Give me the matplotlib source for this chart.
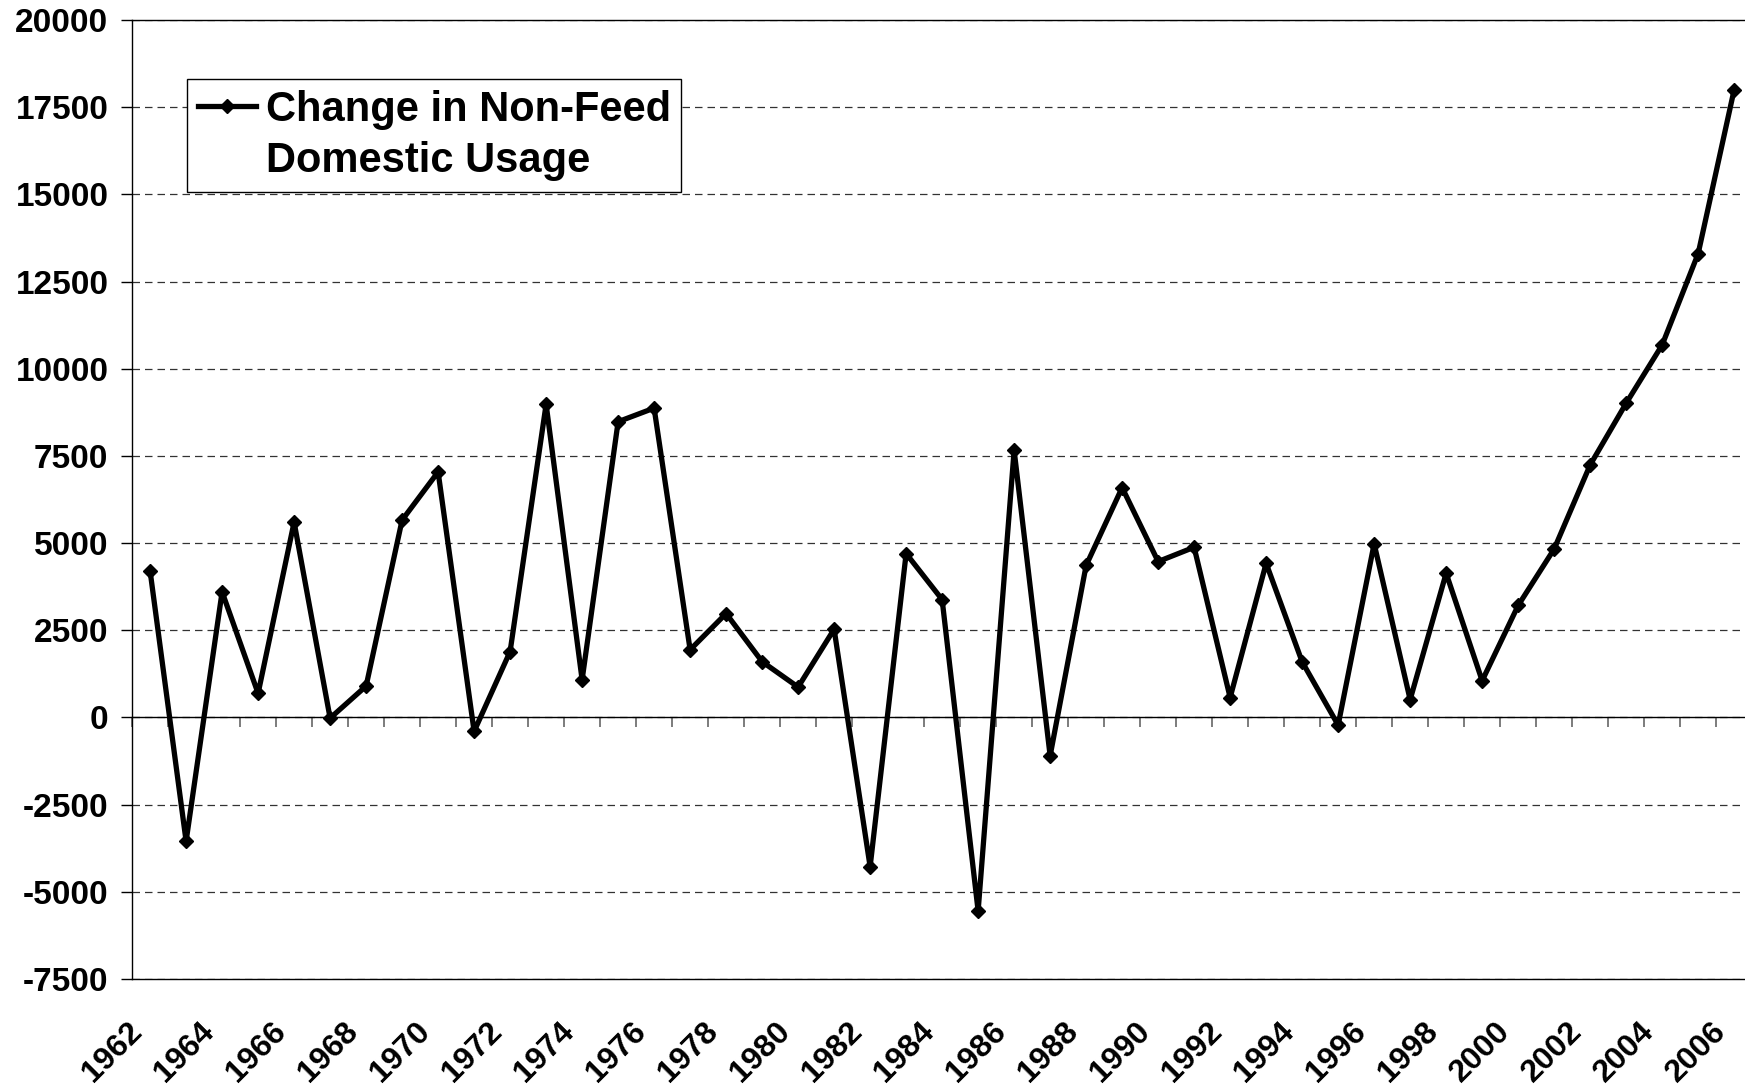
import matplotlib
matplotlib.use('Agg')
import matplotlib.pyplot as plt
import numpy as np
from matplotlib.lines import Line2D
from matplotlib.transforms import ScaledTranslation

# ---- data ----
years = list(range(1962, 2007))
values = [4200, -3550, 3600, 690, 5600, -20, 900, 5660, 7040, -400,
          1890, 8980, 1080, 8480, 8870, 1940, 2980, 1600, 870, 2530,
          -4280, 4700, 3380, -5550, 7660, -1100, 4360, 6590, 4470, 4880,
          570, 4420, 1595, -220, 4980, 510, 4135, 1053, 3210, 4830,
          7240, 9010, 10680, 13300, 18000]
y_ticks = list(range(-7500, 20001, 2500))
label_years = years[::2]
legend_lines = ["Change in Non-Feed", "Domestic Usage"]

plt.rcParams['font.family'] = ['Liberation Sans', 'DejaVu Sans']
plt.rcParams['font.weight'] = 'bold'

fig = plt.figure(figsize=(17.45, 10.85), dpi=100)
ax = fig.add_axes([0.0757, 0.0977, 0.9284, 0.8839])

x = np.arange(len(years))
ax.plot(x, values, color='black', lw=3.8, marker='D', markersize=7,
        zorder=3, clip_on=False)

ax.set_xlim(-0.5, len(years) - 0.5)
ax.set_ylim(y_ticks[0], y_ticks[-1])

# y axis
ax.set_yticks(y_ticks)
ax.set_yticklabels([str(v) for v in y_ticks])
ax.tick_params(axis='y', direction='out', length=8, width=1, pad=9,
               labelsize=24, color='black')
ax.yaxis.grid(True, color='#333333', lw=0.9, linestyle=(0, (6, 4)), zorder=1)
ax.set_axisbelow(True)

# zero line with category-boundary ticks
ax.spines['bottom'].set_position(('data', 0))
ax.spines['bottom'].set_linewidth(1)
ax.spines['right'].set_visible(False)
ax.spines['top'].set_linewidth(1)
ax.spines['left'].set_linewidth(1)
ax.set_xticks(np.arange(len(years) + 1) - 0.5)
ax.tick_params(axis='x', direction='out', length=7, width=1.2,
               color='#666666', labelbottom=False)

# labels on bottom border
sec = ax.secondary_xaxis('bottom')
sec.set_xticks(x[::2], labels=[str(y) for y in label_years])
sec.tick_params(axis='x', length=0, pad=27, labelsize=23)
sec.spines['bottom'].set_linewidth(1)
shift = ScaledTranslation(-0.02, 0, fig.dpi_scale_trans)
for lab in sec.get_xticklabels():
    lab.set_rotation(45)
    lab.set_ha('right')
    lab.set_va('top')
    lab.set_rotation_mode('default')
    lab.set_transform(lab.get_transform() + shift)

# legend
handles = [Line2D([], [], color='black', lw=3.8, marker='D', markersize=7),
           Line2D([], [], color='none')]
leg = ax.legend(handles, legend_lines, loc='upper left',
                bbox_to_anchor=(0.034, 0.9385), borderaxespad=0,
                fontsize=30, frameon=True, fancybox=False,
                edgecolor='black', framealpha=1, borderpad=0.26,
                handlelength=1.4, handletextpad=0.22, labelspacing=0.28)
leg.get_frame().set_linewidth(1)

fig.savefig('out.png', dpi=100)
